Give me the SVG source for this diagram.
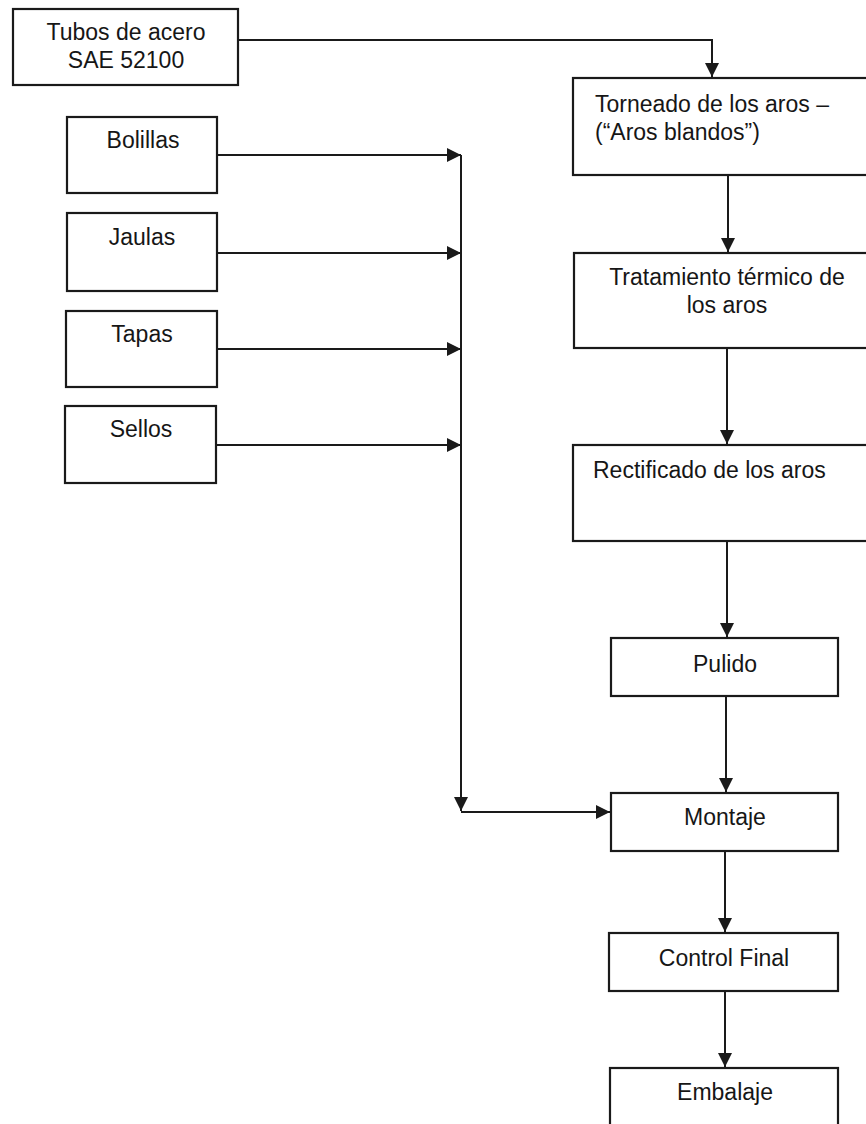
<svg xmlns="http://www.w3.org/2000/svg" width="866" height="1124" viewBox="0 0 866 1124">
<style>
.box{fill:#fff;stroke:#1a1a1a;stroke-width:2.2}
.t{font-family:"Liberation Sans",Arial,sans-serif;font-size:23px;fill:#161616}
.c{text-anchor:middle}
.ln{fill:none;stroke:#1a1a1a;stroke-width:2}
</style>
<defs>
<marker id="ah" markerUnits="userSpaceOnUse" markerWidth="15" markerHeight="14" refX="14" refY="7" orient="auto">
<path d="M0,0 L14,7 L0,14 Z" fill="#1a1a1a"/>
</marker>
</defs>
<rect width="866" height="1124" fill="#fff"/>
<g id="connectors">
<path class="ln" d="M238,40 H712 V77" marker-end="url(#ah)"/>
<path class="ln" d="M728,175 V252" marker-end="url(#ah)"/>
<path class="ln" d="M727,348 V444" marker-end="url(#ah)"/>
<path class="ln" d="M727,541 V637" marker-end="url(#ah)"/>
<path class="ln" d="M726,696 V792" marker-end="url(#ah)"/>
<path class="ln" d="M725,851 V932" marker-end="url(#ah)"/>
<path class="ln" d="M725,991 V1067" marker-end="url(#ah)"/>
<path class="ln" d="M217,155 H461" marker-end="url(#ah)"/>
<path class="ln" d="M217,253 H461" marker-end="url(#ah)"/>
<path class="ln" d="M217,349 H461" marker-end="url(#ah)"/>
<path class="ln" d="M216,445 H461" marker-end="url(#ah)"/>
<path class="ln" d="M461,155 V811" marker-end="url(#ah)"/>
<path class="ln" d="M461,812 H610" marker-end="url(#ah)"/>
</g>
<g id="tubos"><rect class="box" x="13" y="9" width="225" height="76"/>
<text class="t c" x="126" y="40">Tubos de acero</text><text class="t c" x="126" y="68">SAE 52100</text></g>
<g id="bolillas"><rect class="box" x="67" y="117" width="150" height="76"/><text class="t c" x="143" y="148">Bolillas</text></g>
<g id="jaulas"><rect class="box" x="67" y="213" width="150" height="78"/><text class="t c" x="142" y="245">Jaulas</text></g>
<g id="tapas"><rect class="box" x="66" y="311" width="151" height="76"/><text class="t c" x="142" y="342">Tapas</text></g>
<g id="sellos"><rect class="box" x="65" y="406" width="151" height="77"/><text class="t c" x="141" y="437">Sellos</text></g>
<g id="torneado"><rect class="box" x="573" y="78" width="300" height="97"/>
<text class="t" x="595" y="112">Torneado de los aros –</text><text class="t" x="595" y="140">(“Aros blandos”)</text></g>
<g id="tratamiento"><rect class="box" x="574" y="253" width="300" height="95"/>
<text class="t c" x="727" y="285">Tratamiento térmico de</text><text class="t c" x="727" y="313">los aros</text></g>
<g id="rectificado"><rect class="box" x="573" y="445" width="300" height="96"/>
<text class="t" x="593" y="478">Rectificado de los aros</text></g>
<g id="pulido"><rect class="box" x="611" y="638" width="227" height="58"/><text class="t c" x="725" y="672">Pulido</text></g>
<g id="montaje"><rect class="box" x="611" y="793" width="227" height="58"/><text class="t c" x="725" y="825">Montaje</text></g>
<g id="control"><rect class="box" x="609" y="933" width="229" height="58"/><text class="t c" x="724" y="966">Control Final</text></g>
<g id="embalaje"><rect class="box" x="610" y="1068" width="228" height="70"/><text class="t c" x="725" y="1100">Embalaje</text></g>
</svg>
